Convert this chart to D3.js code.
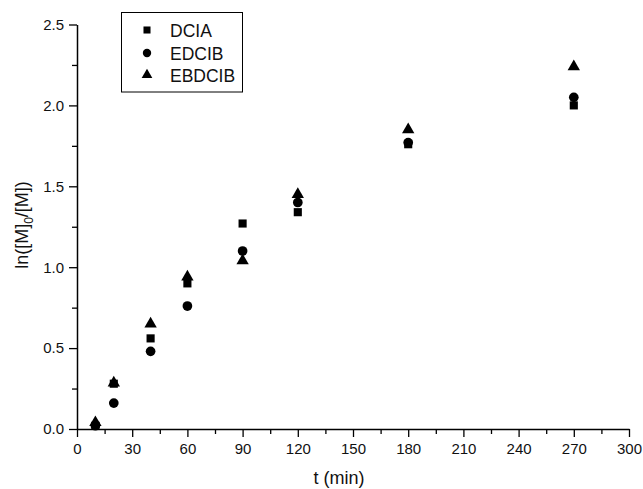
<!DOCTYPE html>
<html>
<head>
<meta charset="utf-8">
<script src="https://cdn.jsdelivr.net/npm/d3@7"></script>
<style>
  html, body { margin: 0; padding: 0; background: #fff; }
  svg { display: block; font-family: "Liberation Sans", Arial, sans-serif; }
</style>
</head>
<body>
<svg id="chart" width="643" height="489"></svg>
<script>
// Reaction times (min)
const times = [10, 20, 40, 60, 90, 120, 180, 270];
// ln([M]0/[M]) for each initiator
const dcia   = [0.02, 0.28, 0.56, 0.90, 1.27, 1.34, 1.76, 2.00];
const edcib  = [0.02, 0.16, 0.48, 0.76, 1.10, 1.40, 1.77, 2.05];
const ebdcib = [0.04, 0.285, 0.65, 0.94, 1.04, 1.45, 1.85, 2.24];

const seriesNames = ["DCIA", "EDCIB", "EBDCIB"];
const seriesValues = [dcia, edcib, ebdcib];
const seriesShapes = [d3.symbolSquare, d3.symbolCircle, d3.symbolTriangle];

const xTicks = [0, 30, 60, 90, 120, 150, 180, 210, 240, 270, 300];
const xMinor = d3.range(15, 300, 30);
const yTicks = [0.0, 0.5, 1.0, 1.5, 2.0, 2.5];
const yMinor = [0.25, 0.75, 1.25, 1.75, 2.25];

const svg = d3.select("#chart");
const plotLeft = 77, plotRight = 629, plotTop = 24.5, plotBottom = 429;

const x = d3.scaleLinear().domain([0, 300]).range([plotLeft, plotRight]);
const y = d3.scaleLinear().domain([0, 2.5]).range([plotBottom, plotTop]);

// minor ticks
svg.append("g")
  .attr("transform", `translate(0,${plotBottom})`)
  .call(d3.axisBottom(x).tickValues(xMinor).tickSize(5).tickSizeOuter(0).tickFormat(""))
  .call(g => g.select(".domain").remove())
  .call(g => g.selectAll("line").attr("stroke", "#000").attr("stroke-width", 1.3));
svg.append("g")
  .attr("transform", `translate(${plotLeft},0)`)
  .call(d3.axisLeft(y).tickValues(yMinor).tickSize(5).tickSizeOuter(0).tickFormat(""))
  .call(g => g.select(".domain").remove())
  .call(g => g.selectAll("line").attr("stroke", "#000").attr("stroke-width", 1.3));

// major axes
const xAxis = svg.append("g")
  .attr("transform", `translate(0,${plotBottom})`)
  .call(d3.axisBottom(x).tickValues(xTicks).tickSize(8).tickSizeOuter(0).tickPadding(6).tickFormat(d3.format("d")));
const yAxis = svg.append("g")
  .attr("transform", `translate(${plotLeft},0)`)
  .call(d3.axisLeft(y).tickValues(yTicks).tickSize(8).tickSizeOuter(0).tickPadding(5).tickFormat(d3.format(".1f")));

[xAxis, yAxis].forEach(g => {
  g.select(".domain").attr("stroke", "#000").attr("stroke-width", 1.5);
  g.selectAll(".tick line").attr("stroke", "#000").attr("stroke-width", 1.3);
  g.selectAll(".tick text").attr("fill", "#111").style("font-size", "15px")
    .style("font-family", "'Liberation Sans', Arial, sans-serif");
});

// axis titles
svg.append("text")
  .attr("x", 339).attr("y", 484)
  .attr("text-anchor", "middle")
  .style("font-size", "18px").attr("fill", "#111")
  .text("t (min)");

const yl = svg.append("text")
  .attr("transform", "translate(28,225) rotate(-90)")
  .attr("text-anchor", "middle")
  .style("font-size", "18px").attr("fill", "#111");
yl.append("tspan").text("ln([M]");
yl.append("tspan").attr("dy", 5).style("font-size", "12px").text("0");
yl.append("tspan").attr("dy", -5).text("/[M])");

// data points
const symbolSizes = [66, 74, 66];
seriesValues.forEach((vals, i) => {
  svg.append("g").selectAll("path")
    .data(times.map((t, j) => [t, vals[j]]))
    .join("path")
    .attr("transform", d => `translate(${x(d[0])},${y(d[1])})`)
    .attr("d", d3.symbol().type(seriesShapes[i]).size(symbolSizes[i]))
    .attr("fill", "#000");
});

// legend
const legend = svg.append("g");
legend.append("rect")
  .attr("x", 121.5).attr("y", 12.5).attr("width", 121).attr("height", 79.5)
  .attr("fill", "#fff").attr("stroke", "#000").attr("stroke-width", 1);
const legendRows = [30, 53, 75];
seriesNames.forEach((name, i) => {
  legend.append("path")
    .attr("transform", `translate(147,${legendRows[i]})`)
    .attr("d", d3.symbol().type(seriesShapes[i]).size(symbolSizes[i] * 0.75))
    .attr("fill", "#000");
  legend.append("text")
    .attr("x", 170).attr("y", legendRows[i] + 6.5)
    .style("font-size", "17.5px").attr("fill", "#111")
    .text(name);
});
</script>
</body>
</html>
